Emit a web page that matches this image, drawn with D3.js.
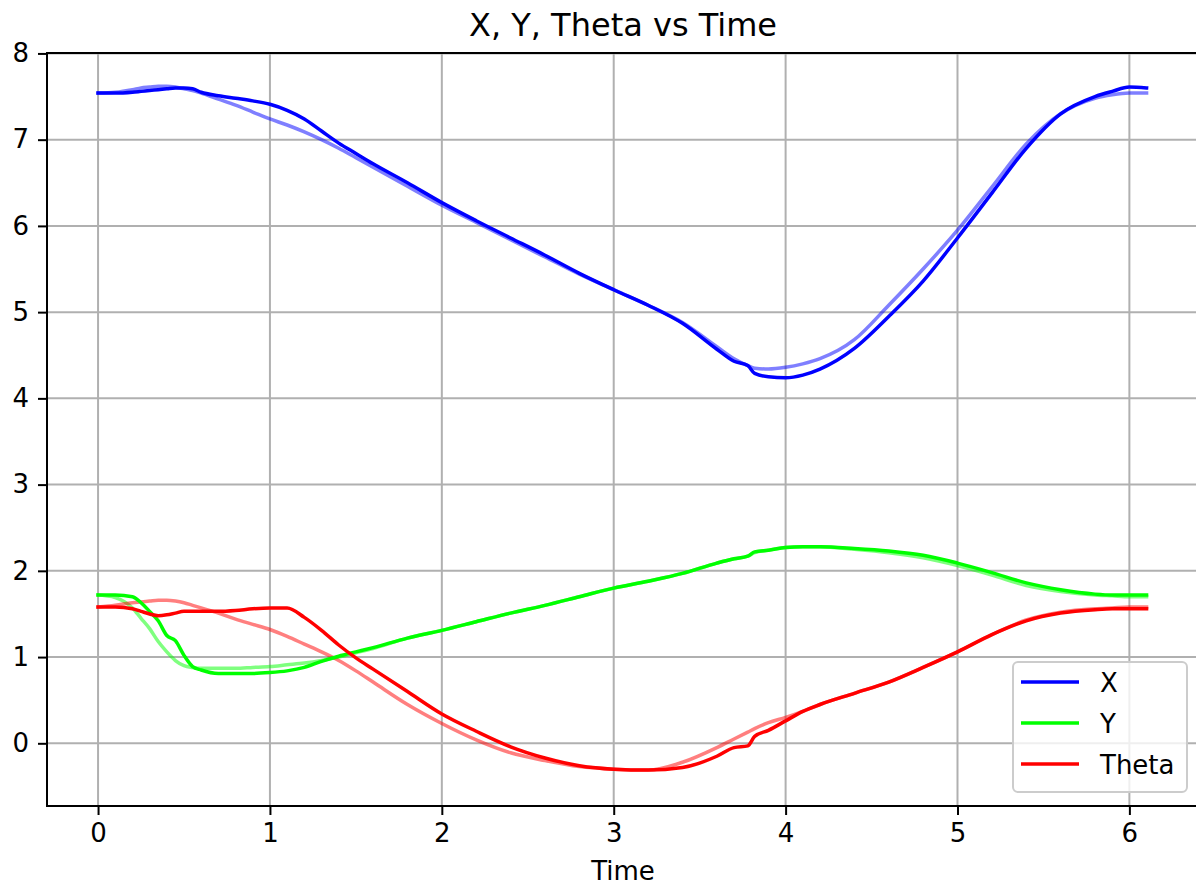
<!DOCTYPE html>
<html>
<head>
<meta charset="utf-8">
<script src="https://cdn.jsdelivr.net/npm/d3@7"></script>
<style>
  body { margin: 0; background: #fff; }
  svg { display: block; font-family: "DejaVu Sans", sans-serif; }
</style>
</head>
<body>
<svg id="chart" width="1196" height="886"></svg>
<script>
// time samples (s)
var time = [0, 0.1, 0.2, 0.25, 0.3, 0.35, 0.4, 0.45, 0.5, 0.55, 0.6, 0.7, 0.8, 0.9, 1.0,
    1.1, 1.2, 1.3, 1.4, 1.5, 1.6, 1.8, 2.0, 2.2, 2.4, 2.6, 2.8, 3.0, 3.2, 3.4, 3.6,
    3.7, 3.78, 3.82, 3.9, 4.0, 4.1, 4.2, 4.4, 4.6, 4.8, 5.0, 5.2, 5.4, 5.6, 5.8,
    5.9, 6.0, 6.1];

// measured (solid)
var xMeasured = [7.54, 7.54, 7.55, 7.56, 7.57, 7.58, 7.59, 7.6, 7.6, 7.59, 7.55, 7.51, 7.48, 7.45, 7.41,
    7.34, 7.24, 7.1, 6.96, 6.84, 6.72, 6.5, 6.27, 6.06, 5.86, 5.66, 5.45, 5.26, 5.08, 4.87, 4.57,
    4.43, 4.38, 4.29, 4.25, 4.24, 4.27, 4.34, 4.58, 4.95, 5.36, 5.86, 6.38, 6.9, 7.3, 7.5,
    7.56, 7.61, 7.6];
var yMeasured = [1.72, 1.72, 1.7, 1.63, 1.53, 1.42, 1.25, 1.19, 1.02, 0.89, 0.85, 0.81, 0.81, 0.81, 0.82,
    0.84, 0.88, 0.95, 1.01, 1.06, 1.11, 1.22, 1.31, 1.41, 1.51, 1.6, 1.7, 1.8, 1.88, 1.97, 2.09,
    2.14, 2.17, 2.22, 2.24, 2.27, 2.28, 2.28, 2.26, 2.23, 2.18, 2.09, 1.98, 1.86, 1.78, 1.73,
    1.72, 1.72, 1.72];
var thetaMeasured = [1.58, 1.58, 1.56, 1.53, 1.5, 1.48, 1.49, 1.51, 1.53, 1.53, 1.53, 1.53, 1.54, 1.56, 1.57,
    1.57, 1.46, 1.31, 1.14, 0.99, 0.86, 0.6, 0.34, 0.14, -0.04, -0.17, -0.26, -0.3, -0.31, -0.28, -0.15,
    -0.05, -0.03, 0.08, 0.15, 0.26, 0.37, 0.45, 0.58, 0.71, 0.88, 1.06, 1.26, 1.42, 1.51, 1.55,
    1.56, 1.56, 1.56];

// reference (faded)
var xRef = [7.54, 7.55, 7.58, 7.6, 7.61, 7.62, 7.62, 7.61, 7.59, 7.57, 7.54, 7.47, 7.4, 7.32, 7.24,
    7.17, 7.09, 7.0, 6.9, 6.79, 6.68, 6.46, 6.24, 6.04, 5.84, 5.64, 5.44, 5.26, 5.08, 4.88, 4.6,
    4.46, 4.38, 4.35, 4.34, 4.36, 4.4, 4.46, 4.68, 5.08, 5.5, 5.95, 6.45, 6.95, 7.3, 7.48,
    7.52, 7.54, 7.54];
var yRef = [1.72, 1.69, 1.57, 1.45, 1.33, 1.18, 1.06, 0.96, 0.9, 0.88, 0.87, 0.87, 0.87, 0.88, 0.89,
    0.91, 0.93, 0.96, 1.0, 1.05, 1.1, 1.22, 1.31, 1.41, 1.51, 1.6, 1.7, 1.8, 1.88, 1.97, 2.09,
    2.14, 2.17, 2.21, 2.24, 2.27, 2.28, 2.28, 2.25, 2.21, 2.15, 2.06, 1.95, 1.83, 1.76, 1.72,
    1.71, 1.7, 1.7];
var thetaRef = [1.58, 1.6, 1.63, 1.64, 1.65, 1.66, 1.66, 1.65, 1.63, 1.6, 1.57, 1.51, 1.44, 1.38, 1.32,
    1.24, 1.15, 1.06, 0.96, 0.84, 0.71, 0.45, 0.23, 0.04, -0.11, -0.2, -0.27, -0.3, -0.31, -0.22, -0.05,
    0.05, 0.13, 0.17, 0.24, 0.3, 0.37, 0.45, 0.58, 0.71, 0.88, 1.06, 1.26, 1.43, 1.52, 1.56,
    1.57, 1.58, 1.58];

var xTicks = [0, 1, 2, 3, 4, 5, 6];
var yTicks = [0, 1, 2, 3, 4, 5, 6, 7, 8];

var series = [
    {label: "X", color: "#0000ff", measured: xMeasured, ref: xRef},
    {label: "Y", color: "#00ff00", measured: yMeasured, ref: yRef},
    {label: "Theta", color: "#ff0000", measured: thetaMeasured, ref: thetaRef}
];

var svg = d3.select("#chart"),
    plotL = 47, plotR = 1199, plotT = 53, plotB = 806;

var x = d3.scaleLinear().domain([-0.297, 6.405]).range([plotL, plotR]);
var y = d3.scaleLinear().domain([-0.727, 8.005]).range([plotB, plotT]);

// grid
svg.append("g")
    .selectAll("line")
    .data(xTicks)
    .enter().append("line")
    .attr("x1", d => x(d)).attr("x2", d => x(d))
    .attr("y1", plotT).attr("y2", plotB)
    .attr("stroke", "#b0b0b0").attr("stroke-width", 2);

svg.append("g")
    .selectAll("line")
    .data(yTicks)
    .enter().append("line")
    .attr("x1", plotL).attr("x2", plotR)
    .attr("y1", d => y(d)).attr("y2", d => y(d))
    .attr("stroke", "#b0b0b0").attr("stroke-width", 2);

// lines
var line = function(values) {
    return d3.line()
        .x((d, i) => x(time[i]))
        .y(d => y(d))
        .curve(d3.curveMonotoneX)(values);
};

var plot = svg.append("g");
series.forEach(function(s) {
    plot.append("path")
        .attr("d", line(s.ref))
        .attr("fill", "none")
        .attr("stroke", s.color)
        .attr("stroke-opacity", 0.5)
        .attr("stroke-width", 3.5)
        .attr("stroke-linejoin", "round")
        .attr("stroke-linecap", "square");
});
series.forEach(function(s) {
    plot.append("path")
        .attr("d", line(s.measured))
        .attr("fill", "none")
        .attr("stroke", s.color)
        .attr("stroke-width", 3.5)
        .attr("stroke-linejoin", "round")
        .attr("stroke-linecap", "square");
});

// axes
var xAxis = svg.append("g")
    .attr("transform", "translate(0," + plotB + ")")
    .call(d3.axisBottom(x).tickValues(xTicks).tickSize(9).tickPadding(9).tickFormat(d3.format("d")));
var yAxis = svg.append("g")
    .attr("transform", "translate(" + plotL + ",0)")
    .call(d3.axisLeft(y).tickValues(yTicks).tickSize(9).tickPadding(9).tickFormat(d3.format("d")));

[xAxis, yAxis].forEach(function(a) {
    a.select(".domain").remove();
    a.selectAll("line").attr("stroke", "#000").attr("stroke-width", 2);
    a.selectAll("text")
        .style("font-size", "26px")
        .style("font-family", "DejaVu Sans")
        .attr("fill", "#000");
});

// frame
svg.append("rect")
    .attr("x", plotL).attr("y", plotT)
    .attr("width", plotR - plotL).attr("height", plotB - plotT)
    .attr("fill", "none").attr("stroke", "#000").attr("stroke-width", 2);

// title & label
svg.append("text")
    .attr("x", (plotL + plotR) / 2)
    .attr("y", 36)
    .attr("text-anchor", "middle")
    .style("font-size", "32px")
    .text("X, Y, Theta vs Time");

svg.append("text")
    .attr("x", (plotL + plotR) / 2)
    .attr("y", 880)
    .attr("text-anchor", "middle")
    .style("font-size", "26px")
    .text("Time");

// legend
var legend = svg.append("g");
legend.append("rect")
    .attr("x", 1013).attr("y", 662)
    .attr("width", 174).attr("height", 130)
    .attr("rx", 5)
    .attr("fill", "#fff").attr("fill-opacity", 0.8)
    .attr("stroke", "#cccccc").attr("stroke-width", 2);

var rows = legend.selectAll("g.row")
    .data(series)
    .enter().append("g")
    .attr("class", "row")
    .attr("transform", (d, i) => "translate(0," + (682 + i * 41) + ")");

rows.append("line")
    .attr("x1", 1021).attr("x2", 1079)
    .attr("stroke", d => d.color)
    .attr("stroke-width", 3.5);

rows.append("text")
    .attr("x", 1100)
    .attr("y", 10)
    .style("font-size", "26px")
    .text(d => d.label);
</script>
</body>
</html>
